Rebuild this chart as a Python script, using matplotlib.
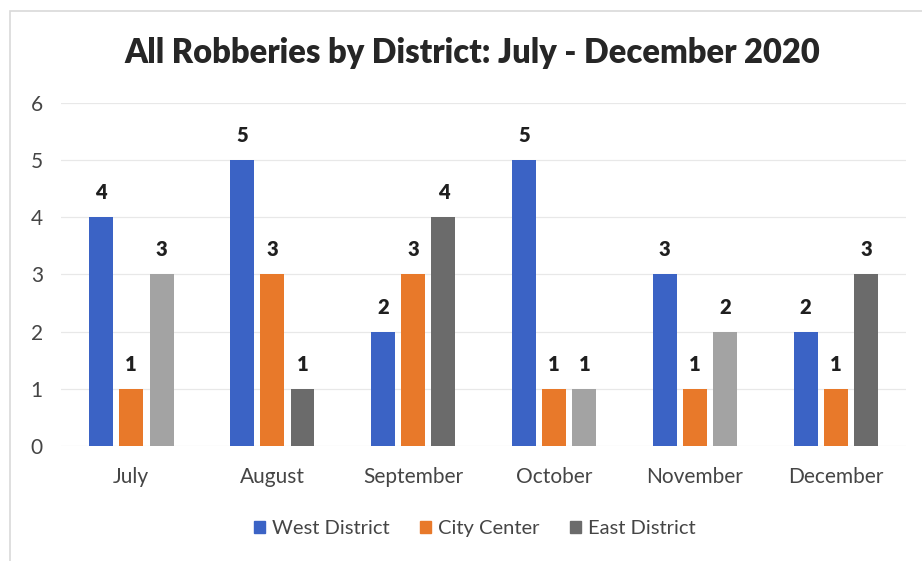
import matplotlib
matplotlib.use("Agg")
import matplotlib.pyplot as plt
from matplotlib.patches import Rectangle
import numpy as np

months = ["July", "August", "September", "October", "November", "December"]
west = [4, 5, 2, 5, 3, 2]
city = [1, 3, 3, 1, 1, 1]
east = [3, 1, 4, 1, 2, 3]
series_names = ["West District", "City Center", "East District"]

plt.rcParams["font.family"] = ["Lato", "DejaVu Sans"]

fig = plt.figure(figsize=(9.22, 5.61), dpi=100)
fig.patch.set_facecolor("white")
fig.add_artist(Rectangle((0.011, -0.02), 1.2, 1.0, transform=fig.transFigure,
                         fill=False, edgecolor="#d9d9d9", linewidth=1.2))

ax = fig.add_axes([0.066, 0.205, 0.917, 0.612])
x = np.arange(len(months))
w = 0.17
step = 0.215

blue = "#3b63c5"
orange = "#e8792a"
east_colors = ["#a3a3a3", "#6b6b6b", "#6b6b6b", "#a3a3a3", "#a3a3a3", "#6b6b6b"]

ax.bar(x - step, west, w, color=blue, zorder=3)
ax.bar(x, city, w, color=orange, zorder=3)
ax.bar(x + step, east, w, color=east_colors, zorder=3)

for xs, vals in ((x - step, west), (x, city), (x + step, east)):
    for xi, v in zip(xs, vals):
        ax.text(xi, v + 0.26, str(v), ha="center", va="bottom",
                fontsize=14.5, fontweight="heavy", color="#1f1f1f")

ax.set_xlim(-0.5, len(months) - 0.5)
ax.set_ylim(0, 6)
ax.set_yticks(range(0, 7))
ax.set_xticks(x)
ax.set_xticklabels(months)
ax.tick_params(axis="both", length=0, labelsize=15, labelcolor="#454545")
ax.tick_params(axis="y", pad=13)
ax.tick_params(axis="x", pad=15)
ax.grid(axis="y", color="#e8e8e8", linewidth=0.9, zorder=0)
for s in ax.spines.values():
    s.set_visible(False)

fig.text(0.512, 0.905, "All Robberies by District: July - December 2020",
         ha="center", va="center", fontsize=23.5, fontweight="heavy", color="#262626")

handles = [Rectangle((0, 0), 1, 1, color=c) for c in (blue, orange, "#6b6b6b")]
fig.legend(handles, series_names, loc="center", bbox_to_anchor=(0.515, 0.058),
           ncol=3, frameon=False, fontsize=14.5, handlelength=0.55, handleheight=0.55,
           handletextpad=0.35, columnspacing=1.5, labelcolor="#454545")

fig.savefig("out.png", dpi=100, facecolor="white")
